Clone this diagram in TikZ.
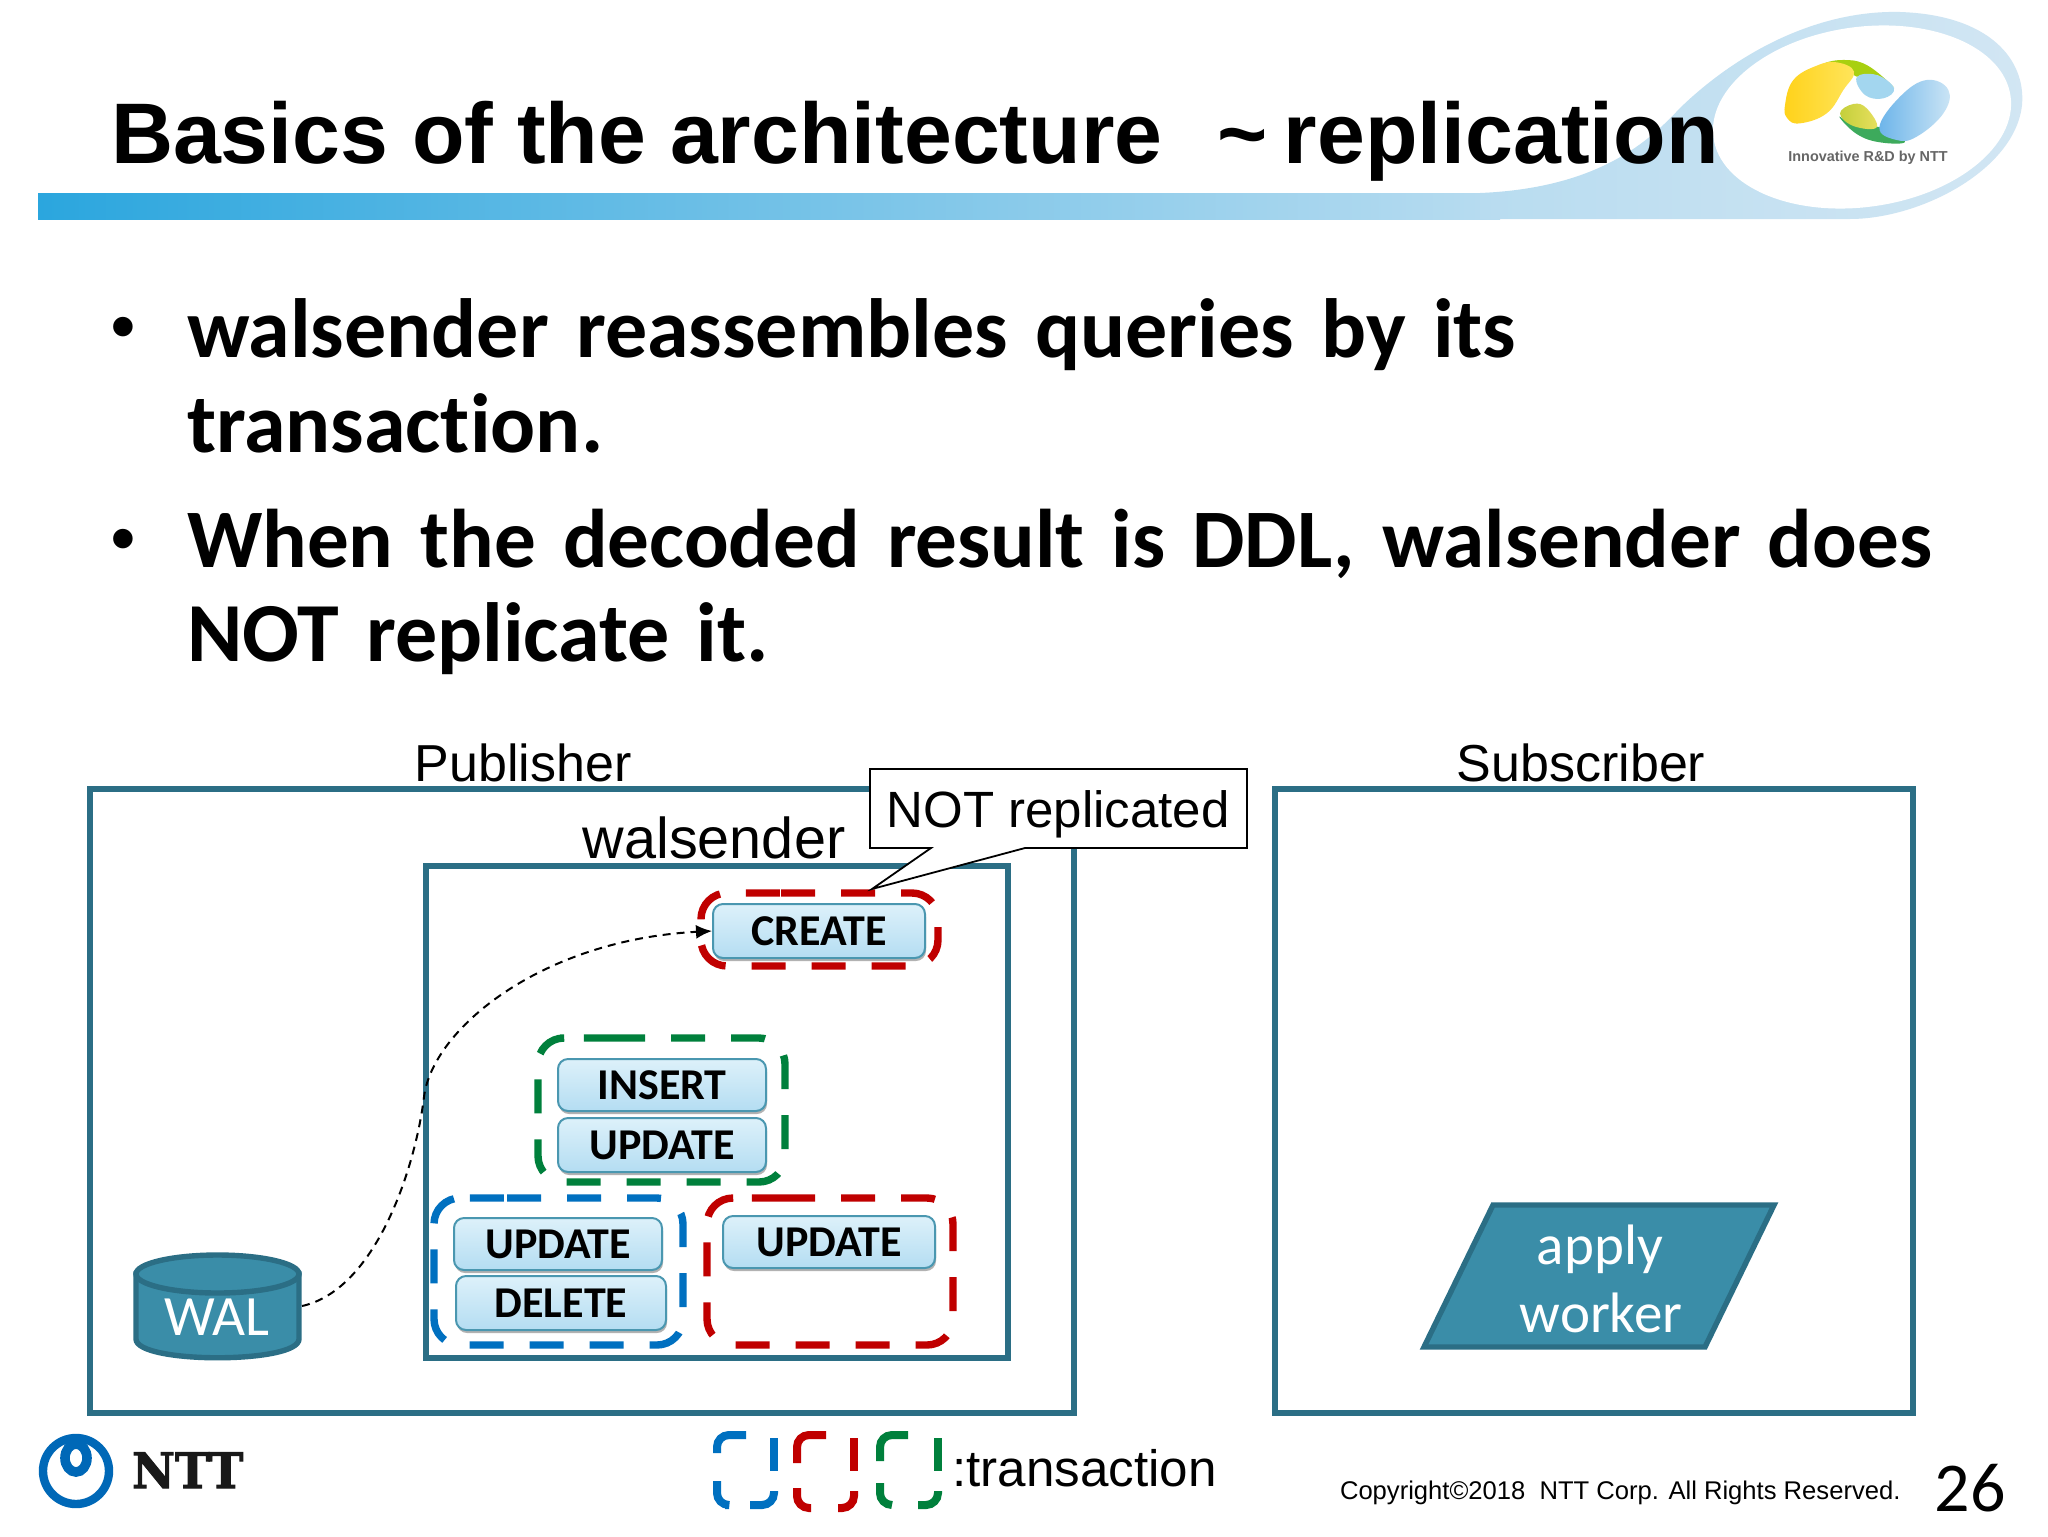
\documentclass[tikz,border=0pt]{standalone}
\usepackage{fontspec}
\setmainfont{Liberation Sans}
\newfontfamily\calibri[Ligatures=NoCommon]{Carlito}
\newfontfamily\calibody[Ligatures=NoCommon,WordSpace=1.44]{Carlito}
\newfontfamily\slab[FakeBold=2]{DejaVu Serif Bold}
\usetikzlibrary{shadows,arrows.meta}
\definecolor{panelc}{HTML}{2B6E85}
\definecolor{wfill}{HTML}{3A8DA8}
\definecolor{bstroke}{HTML}{4A97B0}
\definecolor{txred}{HTML}{C00000}
\definecolor{txgreen}{HTML}{00803C}
\definecolor{txblue}{HTML}{0070C0}
\definecolor{nttblue}{HTML}{0068B7}
\definecolor{btop}{HTML}{DDF1FA}
\definecolor{bbot}{HTML}{B4DDF2}
\definecolor{barA}{HTML}{2BA6DE}
\definecolor{barB}{HTML}{B8DCF0}
\definecolor{swB}{HTML}{D2E6F3}
\definecolor{yelA}{HTML}{FFD21A}
\definecolor{yelB}{HTML}{FFE55C}
\definecolor{lgreen}{HTML}{A8D010}
\definecolor{skyb}{HTML}{A3D6EF}
\definecolor{dgreen}{HTML}{3DAA5C}
\definecolor{oliA}{HTML}{C4CF3A}
\definecolor{oliB}{HTML}{E8E060}
\definecolor{bluA}{HTML}{6DB5EA}
\definecolor{bluB}{HTML}{CCE5F5}
\tikzset{
 panel/.style={draw=panelc,line width=2.8pt,fill=white,minimum width=#1,inner sep=0pt,outer sep=0pt},
 btn/.style={draw=bstroke,line width=1pt,rounded corners=5pt,top color=btop,bottom color=bbot,
   inner sep=0pt,text=black,font=\calibri\bfseries\fontsize{22}{22}\selectfont,
   drop shadow={shadow xshift=0.5pt,shadow yshift=-1.5pt,opacity=.3,fill=black}},
 txbox/.style={line width=3.7pt,dash pattern=on 17pt off 13pt,rounded corners=13pt},
 leg/.style={line width=4pt,rounded corners=6pt},
 lab/.style={inner sep=0pt,outer sep=0pt,anchor=base,text=black},
 bodyline/.style={inner sep=0pt,outer sep=0pt,anchor=base west,text=black,font=\calibody\bfseries\fontsize{42}{42}\selectfont},
}
\begin{document}
\begin{tikzpicture}[x=0.5pt,y=-0.5pt]
\useasboundingbox (0,0) rectangle (2048,1536);
\fill[white] (0,0) rectangle (2048,1536);
% header bar and swoosh
\shade[left color=barA,right color=barB] (38,193) rectangle (1500,219);
\shade[left color=barB,right color=swB]
  (1480,193) .. controls (1600,188) and (1650,140) .. (1680,108)
  .. controls (1740,50) and (1820,10) .. (1900,12)
  .. controls (1990,15) and (2026,60) .. (2022,105)
  .. controls (2015,170) and (1920,219) .. (1850,219) -- (1480,219) -- cycle;
\fill[white,rotate around={8:(1862,117)}] (1862,117) ellipse [x radius=150,y radius=90];
% logo
\begin{scope}[shift={(1650,0)},x=0.16667pt,y=-0.16667pt]
 \fill[lgreen] plot[smooth cycle,tension=.7] coordinates {(520,195)(575,180)(650,195)(732,262)(680,225)(620,230)(600,210)};
 \shade[left color=yelA,right color=yelB] plot[smooth cycle,tension=.7] coordinates {(405,315)(430,240)(500,197)(560,187)(612,215)(580,270)(530,340)(450,370)(412,355)};
 \fill[skyb] plot[smooth cycle,tension=.7] coordinates {(620,232)(680,225)(732,265)(700,295)(645,285)};
 \fill[dgreen] plot[smooth cycle,tension=.7] coordinates {(568,350)(620,402)(690,427)(765,425)(690,382)(620,380)};
 \shade[left color=oliA,right color=oliB] plot[smooth cycle,tension=.7] coordinates {(570,340)(610,312)(650,325)(680,382)(610,378)};
 \shade[left color=bluA,right color=bluB] plot[smooth cycle,tension=.7] coordinates {(688,382)(750,290)(830,240)(895,270)(880,340)(800,410)(740,420)};
\end{scope}
\node[lab,text=black!60,font=\bfseries\fontsize{7.2}{7}\selectfont] (tagline) at (1868,162) {Innovative R\&D by NTT};
% title
\node[lab,anchor=base west,font=\bfseries\fontsize{43}{43}\selectfont] (title) at (111,163) {Basics of the architecture\kern15.7pt{} \textasciitilde\kern8pt replication};
% body
\node[lab,font=\bfseries\fontsize{34}{34}\selectfont] (b1) at (123,349) {•};
\node[bodyline] (l1) at (187,357) {walsender reassembles queries by its};
\node[bodyline] (l2) at (187,452) {transaction.};
\node[lab,font=\bfseries\fontsize{34}{34}\selectfont] (b2) at (123,561) {•};
\node[bodyline,font=\calibody\bfseries\fontsize{41.6}{42}\selectfont] (l3) at (187,567) {When the decoded result is DDL, walsender does};
\node[bodyline] (l4) at (187,661) {NOT replicate it.};
% panels
\node[lab,font=\fontsize{26}{26}\selectfont] (publabel) at (523,781) {Publisher};
\node[lab,font=\fontsize{26}{26}\selectfont] (sublabel) at (1581,781) {Subscriber};
\node[panel=492pt,minimum height=312pt] (pub) at (582,1101) {};
\node[panel=319pt,minimum height=312pt] (sub) at (1594,1101) {};
\node[panel=291pt,minimum height=246pt] (ws) at (717,1112) {};
\node[lab,font=\fontsize{28.8}{29}\selectfont] (wslabel) at (714,858) {walsender};
% transactions
\draw[txbox,txred] (755,893) -- (938,893) -- (938,966) -- (701,966) -- (701,893) -- cycle;
\draw[txbox,txgreen] (585,1038) -- (785,1038) -- (785,1182) -- (538,1182) -- (538,1038) -- cycle;
\draw[txbox,txblue] (481,1198) -- (683,1198) -- (683,1345) -- (434,1345) -- (434,1198) -- cycle;
\draw[txbox,txred] (755,1198) -- (953,1198) -- (953,1345) -- (707,1345) -- (707,1198) -- cycle;
% buttons
\node[btn,minimum width=106pt,minimum height=27pt] (create) at (819,931) {CREATE};
\node[btn,minimum width=104pt,minimum height=26pt] (insert) at (662,1085) {INSERT};
\node[btn,minimum width=104pt,minimum height=27pt] (upd1) at (662,1145) {UPDATE};
\node[btn,minimum width=104pt,minimum height=26pt] (upd2) at (558,1244) {UPDATE};
\node[btn,minimum width=105pt,minimum height=27pt] (del) at (561,1303) {DELETE};
\node[btn,minimum width=106pt,minimum height=26pt] (upd3) at (829,1242) {UPDATE};
% callout
\draw[fill=white,draw=black,line width=0.9pt] (870,769) -- (1247,769) -- (1247,848) -- (1025,848) -- (872,889) -- (931,848) -- (870,848) -- cycle;
\node[lab,font=\fontsize{25.5}{26}\selectfont] (notrep) at (1058,827) {NOT replicated};
% WAL
\fill[wfill,draw=panelc,line width=2.7pt] (136,1274) -- (136,1339) .. controls (136,1364) and (299,1364) .. (299,1339) -- (299,1274) -- cycle;
\draw[fill=wfill,draw=panelc,line width=2.7pt] (217.5,1274) ellipse [x radius=81.5,y radius=19];
\node[inner sep=0pt,outer sep=0pt,minimum width=84.5pt,minimum height=53.5pt] (wal) at (217.5,1306) {};
\node[lab,text=white,font=\calibri\fontsize{28.5}{29}\selectfont] (wallabel) at (217,1335) {WAL};
\coordinate (via) at (424,1097);
\draw[line width=1pt,dash pattern=on 4pt off 3pt,-{Latex[length=8pt,width=7pt]}] (wal.east) .. controls (375,1290) and (415,1170) .. (via) .. controls (432,1030) and (540,940) .. (create.west);
% apply worker
\draw[fill=wfill,draw=panelc,line width=2.7pt] (1493,1205) -- (1774,1205) -- (1705,1347) -- (1424,1347) -- cycle;
\node[lab,text=white,font=\calibri\fontsize{28.5}{29}\selectfont] (apply) at (1600,1264) {apply};
\node[lab,text=white,font=\calibri\fontsize{28.5}{29}\selectfont] (worker) at (1601,1332) {worker};
% NTT logo
\draw[nttblue,line width=4.2pt] (76,1471) circle [radius=33];
\draw[nttblue,line width=4.8pt] (76,1458) ellipse [x radius=11,y radius=14];
\node[lab,anchor=base west,text=black!90,font=\slab\fontsize{24.5}{25}\selectfont,xscale=.96] (ntt) at (132,1488) {NTT};
% legend
\begin{scope}[shift={(713,1431)}]
 \draw[leg,txblue] (4,22) -- (4,4) -- (33,4);
 \draw[leg,txblue] (61,7) -- (61,40);
 \draw[leg,txblue] (61,60) -- (61,74) -- (37,74);
 \draw[leg,txblue] (4,50) -- (4,74) -- (12,74);
\end{scope}
\begin{scope}[shift={(793,1431)}]
 \draw[leg,txred] (4,32) -- (4,4) -- (33,4);
 \draw[leg,txred] (61,7) -- (61,40);
 \draw[leg,txred] (61,60) -- (61,77) -- (45,77);
 \draw[leg,txred] (4,57) -- (4,77) -- (18,77);
\end{scope}
\begin{scope}[shift={(876,1431)}]
 \draw[leg,txgreen] (4,30) -- (4,4) -- (32,4);
 \draw[leg,txgreen] (62,7) -- (62,40);
 \draw[leg,txgreen] (62,60) -- (62,74) -- (42,74);
 \draw[leg,txgreen] (4,52) -- (4,74) -- (16,74);
\end{scope}
\node[lab,anchor=base west,font=\fontsize{25.6}{26}\selectfont] (legtext) at (952,1486) {:transaction};
% footer
\node[lab,anchor=base west,font=\fontsize{12.8}{13}\selectfont] (copy) at (1340,1499) {Copyright©2018\ \ NTT Corp. All Rights Reserved.};
\node[lab,font=\calibri\fontsize{35}{35}\selectfont] (pageno) at (1970,1511) {26};
\end{tikzpicture}
\end{document}
